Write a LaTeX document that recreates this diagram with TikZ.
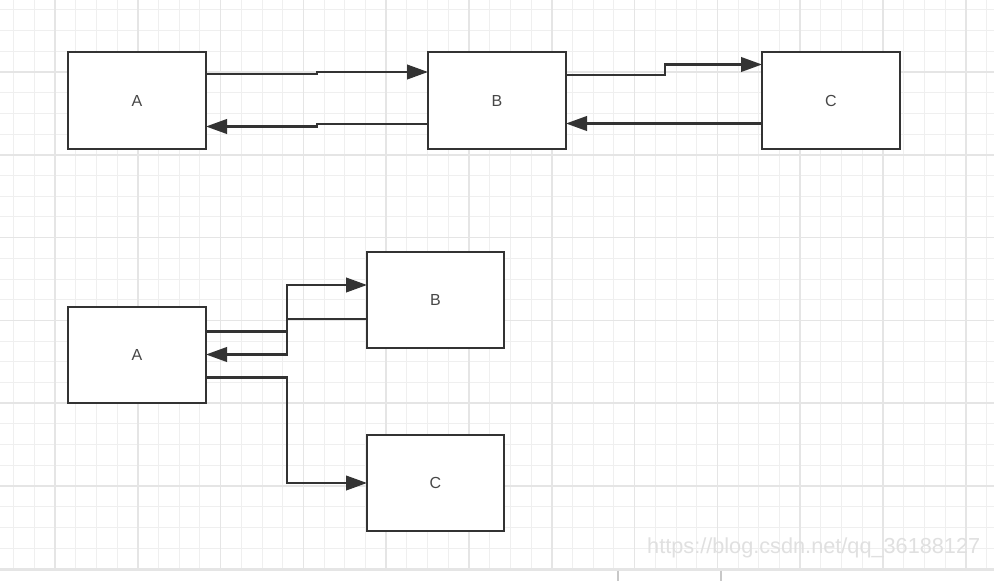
\documentclass[tikz,border=0pt]{standalone}
\usepackage{fontspec}
\setmainfont{Liberation Sans}
\usetikzlibrary{arrows.meta}
\definecolor{ink}{HTML}{333333}
\definecolor{gridfine}{HTML}{EFEFEF}
\definecolor{gridbold}{HTML}{E5E5E5}
\definecolor{wmgray}{HTML}{E0E0E0}
\definecolor{barline}{HTML}{C8C8C8}
\tikzset{
  box/.style={draw=ink,fill=white,line width=2.8pt,minimum width=138pt,minimum height=97pt,inner sep=0pt,outer sep=0pt,font=\fontsize{16}{19}\selectfont,text=ink!90},
  arrow/.style={draw=ink,line width=2.4pt,-{Triangle[length=21pt,width=14.5pt]}},
  fineline/.style={draw=gridfine,line width=1pt},
  boldline/.style={draw=gridbold,line width=1.5pt},
  wmark/.style={font=\fontsize{21.7}{24}\selectfont,text=wmgray,inner sep=0pt},
}

\begin{document}
\begin{tikzpicture}[x=1pt,y=-1pt]
    \useasboundingbox (0,0) rectangle (994,581);
    \fill[white] (0,0) rectangle (994,581);
    \foreach \i in {0,...,47} \draw[fineline] (13.6+\i*20.7,0) -- (13.6+\i*20.7,569);
    \foreach \j in {0,...,27} \draw[fineline] (0,9.9+\j*20.7) -- (994,9.9+\j*20.7);
    \foreach \i in {0,...,11} \draw[boldline] (55+\i*82.8,0) -- (55+\i*82.8,569);
    \foreach \j in {0,...,6} \draw[boldline] (0,72+\j*82.8) -- (994,72+\j*82.8);
    \draw[boldline,line width=2pt] (0,569.5) -- (994,569.5);
    \draw[barline,line width=1.5pt] (618,570.5) -- (618,581);
    \draw[barline,line width=1.5pt] (721,570.5) -- (721,581);
    \node[wmark,anchor=base west] (wm) at (647,553) {https://blog.csdn.net/qq\_36188127};

    \node[box] (a1) at (137,100.5) {A};
    \node[box] (b1) at (497,100.5) {B};
    \node[box] (c1) at (831,100.5) {C};
    \draw[arrow] (a1.east |- 0,74) -| (317,72) -- (b1.west |- 0,72);
    \draw[arrow] (b1.west |- 0,124) -| (317,126.5) -- (a1.east |- 0,126.5);
    \draw[arrow] (b1.east |- 0,75) -| (665,64.5) -- (c1.west |- 0,64.5);
    \draw[arrow] (c1.west |- 0,123.5) -- (b1.east |- 0,123.5);

    \node[box,minimum height=96pt] (a2) at (137,355) {A};
    \node[box,minimum width=137pt,minimum height=96pt] (b2) at (435.5,300) {B};
    \node[box,minimum width=137pt,minimum height=96pt] (c2) at (435.5,483) {C};
    \draw[arrow] (a2.east |- 0,331.5) -| (287,285) -- (b2.west |- 0,285);
    \draw[arrow] (b2.west |- 0,319) -| (287,354.5) -- (a2.east |- 0,354.5);
    \draw[arrow] (a2.east |- 0,377.5) -| (287,483) -- (c2.west);
  \end{tikzpicture}
\end{document}
